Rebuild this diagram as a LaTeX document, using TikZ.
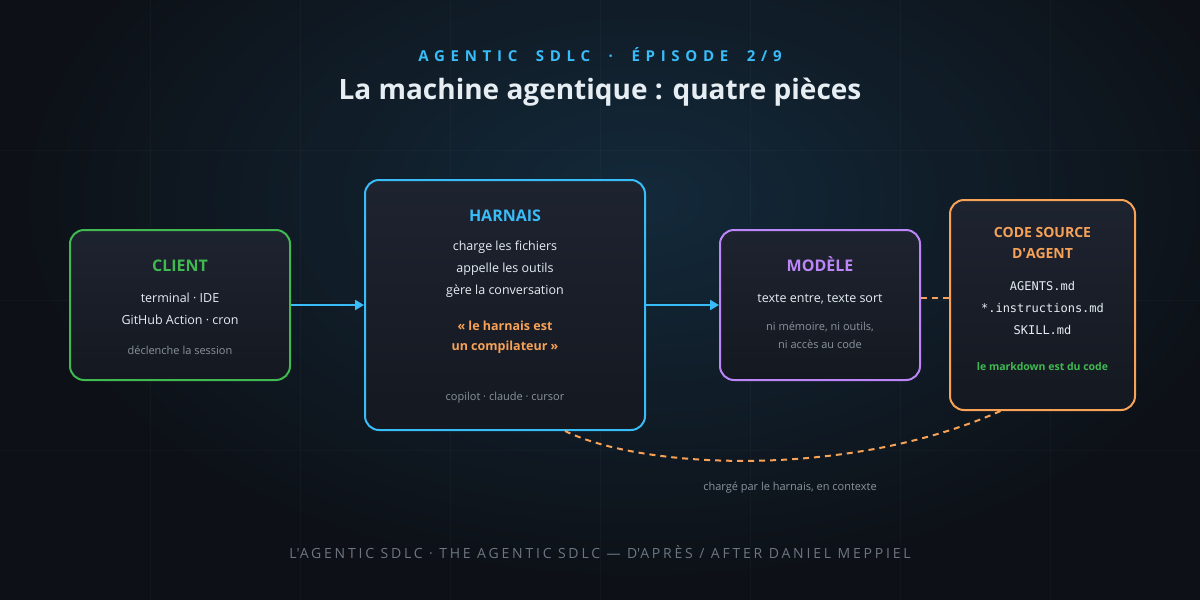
\documentclass[tikz,border=0pt]{standalone}
\usepackage{fontspec}
\setmainfont{Open Sans}
\newfontfamily\monof{DejaVu Sans Mono}
\usetikzlibrary{arrows.meta}
\definecolor{bg}{HTML}{0D1117}
\definecolor{glow}{HTML}{13293A}
\definecolor{boxtop}{HTML}{1E2330}
\definecolor{boxbot}{HTML}{141820}
\definecolor{cblue}{HTML}{38BDF8}
\definecolor{cgreen}{HTML}{3FB950}
\definecolor{cpurple}{HTML}{BC85F8}
\definecolor{corange}{HTML}{F8A257}
\definecolor{ctext}{HTML}{E6EDF3}
\definecolor{cgray}{HTML}{8B949E}
\definecolor{cfoot}{HTML}{6E7681}
\newcommand{\fs}[1]{\fontsize{#1}{#1}\selectfont}
\newcommand{\wsp}{\hspace{9pt}}
\tikzset{
  panel/.style={draw=#1, line width=2pt, rounded corners=14pt, top color=boxtop, bottom color=boxbot, inner sep=0pt},
  ttl/.style={font=\fs{16}\bfseries, text=#1, anchor=base},
  body/.style={font=\fs{12.5}, text=ctext, anchor=base},
  small/.style={font=\fs{11}, text=cgray, anchor=base},
  mono/.style={font=\fs{12}\monof, text=ctext, anchor=base},
  flow/.style={draw=cblue, line width=2pt, -{Triangle[length=9pt,width=10pt]}},
  link/.style={draw=corange, line width=2pt, dash pattern=on 6pt off 5pt}
}
\begin{document}
\begin{tikzpicture}[x=1pt,y=-1pt]
\useasboundingbox (0,0) rectangle (1200,600);
\fill[bg] (0,0) rectangle (1200,600);
\begin{scope}
\clip (0,0) rectangle (1200,600);
\shade[inner color=glow, outer color=bg] (640,200) ellipse (620 and 380);
\foreach \g in {150,300,...,1050} \draw[white, opacity=0.025, line width=1pt] (\g,0) -- (\g,600);
\foreach \g in {150,300,450} \draw[white, opacity=0.025, line width=1pt] (0,\g) -- (1200,\g);
\end{scope}
% header
\node[anchor=base, text=cblue, font=\fs{15}\bfseries\addfontfeature{LetterSpace=38}] (kicker) at (600,61) {AGENTIC\wsp{} SDLC\wsp{} ·\wsp{} ÉPISODE\wsp{} 2/9};
\node[anchor=base, text=ctext, font=\fs{28}\bfseries] (title) at (600,99) {La machine agentique : quatre pièces};
% boxes
\node[panel=cgreen, minimum width=220pt, minimum height=150pt] (client) at (180,305) {};
\node[panel=cblue, minimum width=280pt, minimum height=250pt] (harnais) at (505,305) {};
\node[panel=cpurple, minimum width=200pt, minimum height=150pt] (modele) at (820,305) {};
\node[panel=corange, minimum width=185pt, minimum height=210pt] (code) at (1042.5,305) {};
% client text
\node[ttl=cgreen] (clientT) at (180,271) {CLIENT};
\node[body] (client1) at (180,302) {terminal · IDE};
\node[body] (client2) at (180,324) {GitHub Action · cron};
\node[small] (client3) at (180,354) {déclenche la session};
% harnais text
\node[ttl=cblue] (harnT) at (505,221) {HARNAIS};
\node[body] (harn1) at (505,250) {charge les fichiers};
\node[body] (harn2) at (505,272) {appelle les outils};
\node[body] (harn3) at (505,294) {gère la conversation};
\node[body, text=corange, font=\fs{12.5}\bfseries] (harn4) at (505,330) {«~le harnais est};
\node[body, text=corange, font=\fs{12.5}\bfseries] (harn5) at (505,350) {un compilateur~»};
\node[small] (harn6) at (505,400) {copilot · claude · cursor};
% modele text
\node[ttl=cpurple] (modT) at (820,271) {MODÈLE};
\node[body] (mod1) at (820,302) {texte entre, texte sort};
\node[small] (mod2) at (820,330) {ni mémoire, ni outils,};
\node[small] (mod3) at (820,348) {ni accès au code};
% code text
\node[ttl=corange, font=\fs{14}\bfseries] (codeT1) at (1042.5,237) {CODE SOURCE};
\node[ttl=corange, font=\fs{14}\bfseries] (codeT2) at (1042.5,258) {D\textquotesingle AGENT};
\node[mono] (code1) at (1042.5,290) {AGENTS.md};
\node[mono] (code2) at (1042.5,312) {*.instructions.md};
\node[mono] (code3) at (1042.5,334) {SKILL.md};
\node[small, text=cgreen, font=\fs{10.5}\bfseries] (code4) at (1042.5,370) {le markdown est du code};
% connectors
\draw[flow] (client.east) -- (harnais.west);
\draw[flow] (harnais.east) -- (modele.west);
\draw[link] ([yshift=7pt]modele.east) -- ([yshift=7pt]code.west);
\draw[link] ([xshift=-42pt]code.south) .. controls (850,478) and (645,470) .. ([xshift=60pt]harnais.south);
\node[small] (curveL) at (790,490) {chargé par le harnais, en contexte};
% footer
\node[anchor=base, text=cfoot, font=\fs{14}\addfontfeature{LetterSpace=20}] (footer) at (600,558) {L\textquotesingle AGENTIC SDLC · THE AGENTIC SDLC — D\textquotesingle APRÈS / AFTER DANIEL MEPPIEL};
\end{tikzpicture}
\end{document}
